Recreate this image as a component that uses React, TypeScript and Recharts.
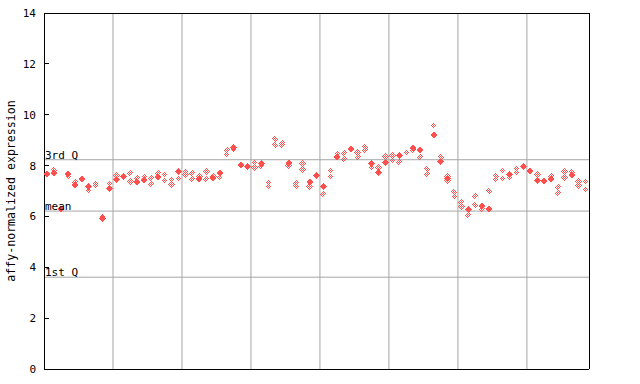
import {
  ReferenceLine,
  Scatter,
  ScatterChart,
  XAxis,
  YAxis,
} from 'recharts'

// one entry per sample; null where that marker is absent
const solid: (number | null)[] = [
  7.67, 7.71, 6.29, 7.67, 7.24, 7.46, 7.18, null, 5.92, 7.10,
  7.45, 7.57, null, 7.34, 7.42, null, 7.55, null, null, 7.77,
  null, null, 7.47, null, 7.51, 7.71, null, 8.70, 8.02, 7.98,
  null, 8.09, null, null, null, 8.10, null, null, 7.35, 7.61,
  7.18, null, 8.33, null, 8.65, null, null, 8.09, 7.73, 8.13,
  null, 8.40, null, 8.70, 8.61, null, 9.20, 8.15, 7.50, null,
  null, 6.28, null, 6.42, 6.28, null, null, 7.64, null, 7.97,
  7.79, 7.42, 7.40, 7.46, null, null, 7.62, null, null,
]
const hatchA: (number | null)[] = [
  null, 7.83, null, 7.57, 7.34, null, 7.02, 7.29, 5.99, 7.31,
  7.60, null, 7.70, 7.51, 7.57, 7.51, 7.71, 7.64, 7.44, 7.51,
  7.77, 7.71, 7.57, 7.77, 7.57, 7.53, 8.62, 8.64, null, null,
  8.12, 7.98, 7.33, 9.04, 8.90, 8.00, 7.31, 8.08, 7.17, null,
  6.88, 7.80, 8.47, 8.49, null, 8.51, 8.73, 7.92, 7.94, 8.34,
  8.39, 8.14, 8.51, 8.62, 8.33, 7.87, 9.57, 8.34, 7.58, 6.96,
  6.57, 6.05, 6.81, 6.28, 7.01, 7.58, 7.80, 7.52, 7.90, null,
  null, 7.64, null, 7.60, 7.17, 7.77, 7.74, 7.37, 7.36,
]
const hatchB: (number | null)[] = [
  null, null, null, null, null, null, null, 7.21, null, null,
  null, null, 7.38, null, null, 7.29, null, 7.42, 7.25, null,
  7.64, 7.47, null, 7.47, null, null, 8.44, null, null, null,
  7.94, null, 7.17, 8.80, 8.80, null, 7.20, 7.84, null, null,
  null, 7.58, null, 8.27, null, 8.34, 8.62, null, null, null,
  8.19, null, null, null, null, 7.68, null, null, 7.40, 6.80,
  6.39, null, 6.46, null, null, 7.45, 7.49, null, 7.73, null,
  null, null, null, null, 6.92, 7.53, null, 7.21, 7.06,
]

const sampleCount = solid.length
const groupTicks = [10, 20, 30, 40, 50, 60, 70]
const yTicks = [0, 2, 4, 6, 8, 10, 12, 14]
const q3 = 8.23
const mean = 6.21
const q1 = 3.61

const red = '#ff5050'
const grid = '#a6a6a6'
const font = "'DejaVu Sans Mono', monospace"
const TICK_GAP = 8

const toPoints = (vals: (number | null)[]) =>
  vals.flatMap((v, i) => (v == null ? [] : [{ x: i + 0.5, y: v }]))

function Diamond({ cx, cy, fill }: { cx?: number; cy?: number; fill: string }) {
  if (cx == null || cy == null) return null
  const pts = `${cx},${cy - 3.5} ${cx + 3.5},${cy} ${cx},${cy + 3.5} ${cx - 3.5},${cy}`
  return <polygon points={pts} fill={fill} shapeRendering="crispEdges" />
}

function LeftTick({ x, y, payload }: { x: number; y: number; payload: { value: number } }) {
  return (
    <g>
      <line x1={x + TICK_GAP} x2={x + TICK_GAP + 5} y1={y} y2={y} stroke="#000" shapeRendering="crispEdges" />
      <text x={x} y={y} dy={4} textAnchor="end" fontSize={11} fontFamily={font} fill="#000">
        {payload.value}
      </text>
    </g>
  )
}

const refLabel = (value: string) => ({
  value,
  position: 'insideBottomLeft' as const,
  offset: 1,
  fontSize: 11,
  fontFamily: font,
  fill: '#000',
})

const line = { stroke: '#000', shapeRendering: 'crispEdges' }

export default function App() {
  return (
    <div style={{ position: 'absolute', left: 0, top: 0, width: 640, height: 384, background: '#fff' }}>
      <svg width={0} height={0} style={{ position: 'absolute' }}>
        <defs>
          <pattern id="chk" width={2} height={2} patternUnits="userSpaceOnUse">
            <rect x={0} y={0} width={1} height={1} fill={red} />
            <rect x={1} y={1} width={1} height={1} fill={red} />
          </pattern>
        </defs>
      </svg>
      <ScatterChart width={640} height={384} margin={{ top: 12, right: 51, bottom: 14, left: 0 }}>
        <XAxis
          type="number"
          dataKey="x"
          domain={[0, sampleCount]}
          ticks={groupTicks}
          tick={false}
          tickLine={false}
          height={1}
          axisLine={line}
        />
        <XAxis
          xAxisId="top"
          orientation="top"
          type="number"
          dataKey="x"
          domain={[0, sampleCount]}
          tick={false}
          tickLine={false}
          height={1}
          axisLine={line}
        />
        <YAxis
          type="number"
          dataKey="y"
          domain={[0, 14]}
          ticks={yTicks}
          width={44}
          tickSize={0}
          tickMargin={TICK_GAP}
          tickLine={false}
          axisLine={line}
          tick={(p: any) => <LeftTick {...p} />}
          label={{
            value: 'affy-normalized expression',
            angle: -90,
            position: 'center',
            dx: -11,
            fontSize: 11.6,
            fontFamily: font,
            fill: '#000',
          }}
        />
        <YAxis
          yAxisId="right"
          orientation="right"
          type="number"
          dataKey="y"
          domain={[0, 14]}
          ticks={yTicks}
          width={1}
          mirror
          tick={false}
          tickSize={5}
          tickLine={line}
          axisLine={line}
        />
        {groupTicks.map((t) => (
          <ReferenceLine key={t} x={t} stroke={grid} />
        ))}
        <ReferenceLine y={q3} stroke={grid} label={refLabel('3rd Q')} />
        <ReferenceLine y={mean} stroke={grid} label={refLabel('mean')} />
        <ReferenceLine y={q1} stroke={grid} label={refLabel('1st Q')} />
        <Scatter
          data={toPoints(hatchB)}
          yAxisId="right"
          xAxisId="top"
          isAnimationActive={false}
          shape={(p: any) => <Diamond cx={p.cx} cy={p.cy} fill="url(#chk)" />}
        />
        <Scatter
          data={toPoints(hatchA)}
          isAnimationActive={false}
          shape={(p: any) => <Diamond cx={p.cx} cy={p.cy} fill="url(#chk)" />}
        />
        <Scatter
          data={toPoints(solid)}
          isAnimationActive={false}
          shape={(p: any) => <Diamond cx={p.cx} cy={p.cy} fill={red} />}
        />
      </ScatterChart>
    </div>
  )
}
